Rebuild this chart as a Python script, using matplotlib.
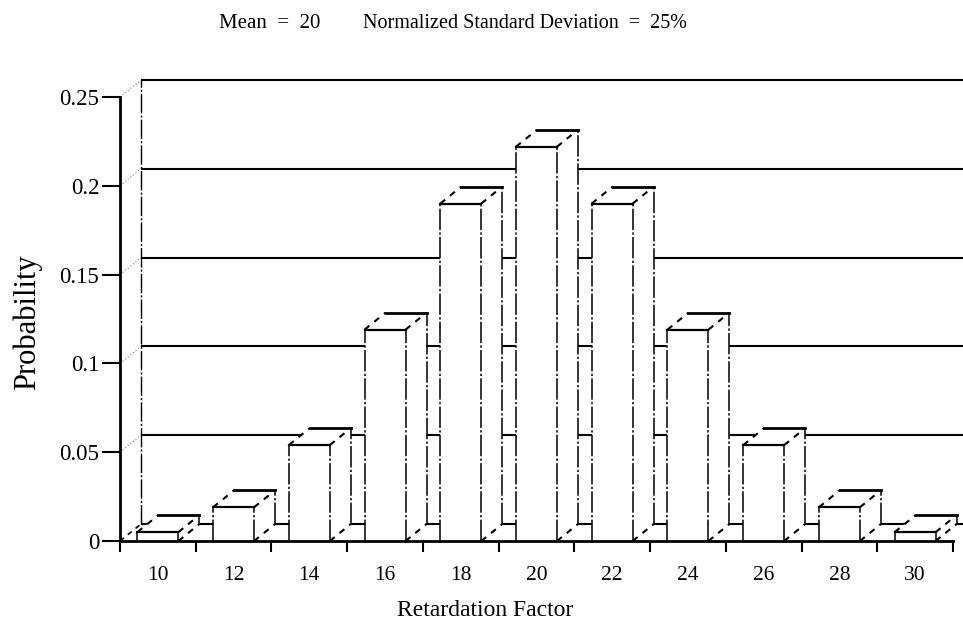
import matplotlib
matplotlib.use("Agg")
import matplotlib.pyplot as plt
from matplotlib.patches import Polygon

# ---- data ----
categories = [10, 12, 14, 16, 18, 20, 22, 24, 26, 28, 30]
probability = [0.005, 0.019, 0.054, 0.119, 0.190, 0.222, 0.190, 0.119, 0.054, 0.019, 0.005]
y_ticks = [0, 0.05, 0.1, 0.15, 0.2, 0.25]
y_tick_labels = ["0", "0.05", "0.1", "0.15", "0.2", "0.25"]
title_left = "Mean  =  20"
title_right = "Normalized Standard Deviation  =  25%"
x_label = "Retardation Factor"
y_label = "Probability"

plt.rcParams['font.family'] = ['Liberation Serif', 'DejaVu Serif']

W, H = 963, 627
fig = plt.figure(figsize=(W / 100, H / 100), dpi=100)
L, R, B, T = 120, 953, 541, 97
ax = fig.add_axes([L / W, 1 - B / H, (R - L) / W, (B - T) / H])
xmin, xmax = 9, 31
ymin, ymax = 0, 0.25
ax.set_xlim(xmin, xmax)
ax.set_ylim(ymin, ymax)

# depth offset (pixels -> data units)
dx_px, dy_px = 21, 17
dx = dx_px / (R - L) * (xmax - xmin)
dy = dy_px / (B - T) * (ymax - ymin)
half = 20.5 / (R - L) * (xmax - xmin)

vert_ls = (0, (14, 1.5, 1.5, 1.5))
diag_ls = (0, (3, 3))

# ---- back wall ----
for yv in y_ticks:
    ax.plot([xmin + dx, xmax + dx + 1], [yv + dy, yv + dy], color='black', lw=1.5,
            clip_on=False, zorder=1, solid_capstyle='butt')
    if yv > 0:
        ax.plot([xmin, xmin + dx], [yv, yv + dy], color='0.5', lw=0.8, ls=(0, (1, 2)),
                clip_on=False, zorder=1)
ax.plot([xmin + dx, xmin + dx], [dy, ymax + dy], color='black', lw=1.0, ls=vert_ls,
        clip_on=False, zorder=1)
ax.plot([xmin, xmin + dx], [0, dy], color='black', lw=1.2, ls=diag_ls, clip_on=False, zorder=1)

# ---- bars ----
for i, (c, v) in enumerate(zip(categories, probability)):
    z = 3 + i * 0.01
    x0, x1 = c - half, c + half
    side = Polygon([(x1, 0), (x1 + dx, dy), (x1 + dx, v + dy), (x1, v)], closed=True,
                   facecolor='white', edgecolor='none', clip_on=False, zorder=z)
    top = Polygon([(x0, v), (x1, v), (x1 + dx, v + dy), (x0 + dx, v + dy)], closed=True,
                  facecolor='white', edgecolor='none', clip_on=False, zorder=z)
    front = Polygon([(x0, 0), (x1, 0), (x1, v), (x0, v)], closed=True,
                    facecolor='white', edgecolor='none', clip_on=False, zorder=z)
    for p in (side, top, front):
        ax.add_patch(p)
    ze = z + 0.005
    # front face
    ax.plot([x0, x1], [v, v], color='black', lw=1.6, clip_on=False, zorder=ze)
    ax.plot([x0, x0], [0, v], color='black', lw=1.1, ls=vert_ls, clip_on=False, zorder=ze)
    ax.plot([x1, x1], [0, v], color='black', lw=1.1, ls=vert_ls, clip_on=False, zorder=ze)
    # top back edge
    ax.plot([x0 + dx, x1 + dx], [v + dy, v + dy], color='black', lw=2.0,
            clip_on=False, zorder=ze)
    # diagonals
    ax.plot([x0, x0 + dx], [v, v + dy], color='black', lw=1.5, ls=diag_ls,
            clip_on=False, zorder=ze)
    ax.plot([x1, x1 + dx], [v, v + dy], color='black', lw=1.5, ls=diag_ls,
            clip_on=False, zorder=ze)
    ax.plot([x1, x1 + dx], [0, dy], color='black', lw=1.5, ls=diag_ls,
            clip_on=False, zorder=ze)
    # side right vertical
    ax.plot([x1 + dx, x1 + dx], [dy, v + dy], color='black', lw=1.1, ls=vert_ls,
            clip_on=False, zorder=ze)

# ---- axes styling ----
for s in ('top', 'right'):
    ax.spines[s].set_visible(False)
for s in ('left', 'bottom'):
    ax.spines[s].set_linewidth(2.0)
    ax.spines[s].set_zorder(10)
ax.patch.set_visible(False)

ax.set_yticks(y_ticks)
ax.set_yticklabels(y_tick_labels, fontsize=16.5)
ax.tick_params(axis='y', direction='out', length=13, width=1.5, pad=2)

ax.set_xticks(list(range(xmin, xmax + 1, 2)))
ax.set_xticklabels([])
ax.set_xticks(categories, minor=True)
ax.set_xticklabels([str(c) for c in categories], minor=True, fontsize=15.5)
ax.tick_params(axis='x', which='major', direction='out', length=8, width=1.5)
ax.tick_params(axis='x', which='minor', length=0, pad=18)

fig.text(270 / W, 1 - 23 / H, title_left, ha='center', va='center', fontsize=15)
fig.text(525 / W, 1 - 23 / H, title_right, ha='center', va='center', fontsize=14.5)
fig.text(485 / W, 1 - 610 / H, x_label, ha='center', va='center', fontsize=17)
fig.text(27 / W, 1 - 322 / H, y_label, ha='center', va='center', rotation=90, fontsize=22)

fig.savefig("out.png", dpi=100)
